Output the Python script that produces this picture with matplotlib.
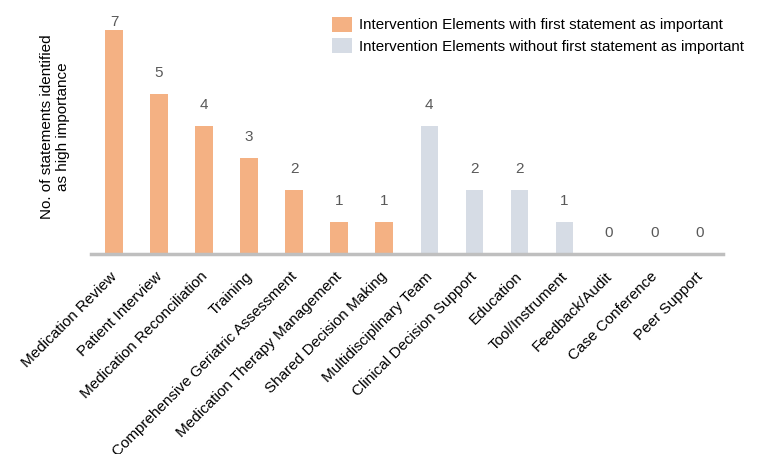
import matplotlib
matplotlib.use("Agg")
import matplotlib.pyplot as plt
from matplotlib.patches import Patch
from matplotlib.transforms import ScaledTranslation

plt.rcParams['font.family'] = ['Liberation Sans', 'DejaVu Sans']

categories = ["Medication Review", "Patient Interview", "Medication Reconciliation", "Training",
              "Comprehensive Geriatric Assessment", "Medication Therapy Management",
              "Shared Decision Making", "Multidisciplinary Team", "Clinical Decision Support",
              "Education", "Tool/Instrument", "Feedback/Audit", "Case Conference", "Peer Support"]
values = [7, 5, 4, 3, 2, 1, 1, 4, 2, 2, 1, 0, 0, 0]
group = [1, 1, 1, 1, 1, 1, 1, 0, 0, 0, 0, 0, 0, 0]
legend_labels = ["Intervention Elements with first statement as important",
                 "Intervention Elements without first statement as important"]

c_first = "#F4B183"
c_other = "#D6DCE5"

fig = plt.figure(figsize=(7.59, 4.54), dpi=100)
ax = fig.add_axes([91/759, 1-254/454, (723-91)/759, (254-20)/454])

x = list(range(len(categories)))
colors = [c_first if g else c_other for g in group]
ax.bar(x, values, width=0.38, color=colors, zorder=2)
ymax = 234/32
for xi, v in zip(x, values):
    ax.text(xi, min(v + 0.66, ymax - 0.05), str(v),
            ha="center", va="center", fontsize=11, color="#595959")

ax.set_xlim(-0.51, 13.53)
ax.set_ylim(0, ymax)
for s in ["top", "right", "left"]:
    ax.spines[s].set_visible(False)
ax.spines["bottom"].set_color("#BFBFBF")
ax.spines["bottom"].set_linewidth(2.5)
ax.set_yticks([])
ax.set_xticks(x)
ax.set_xticklabels(categories, rotation=45, ha="right", rotation_mode="anchor", fontsize=11)
ax.tick_params(axis="x", length=0, pad=9)
shift = ScaledTranslation(-4/100, -3/100, fig.dpi_scale_trans)
for lab in ax.get_xticklabels():
    lab.set_transform(lab.get_transform() + shift)

fig.text(55/759, 1-127/454, "No. of statements identified\nas high importance", rotation=90,
         ha="center", va="center", fontsize=11, color="#000000")

handles = [Patch(facecolor=c_first), Patch(facecolor=c_other)]
fig.legend(handles, legend_labels, loc="upper left", bbox_to_anchor=(318/759, 1-3/454),
           frameon=False, fontsize=10.9, handlelength=1.35, handleheight=1.2,
           handletextpad=0.45, labelspacing=0.35)

fig.savefig("out.png", dpi=100)
